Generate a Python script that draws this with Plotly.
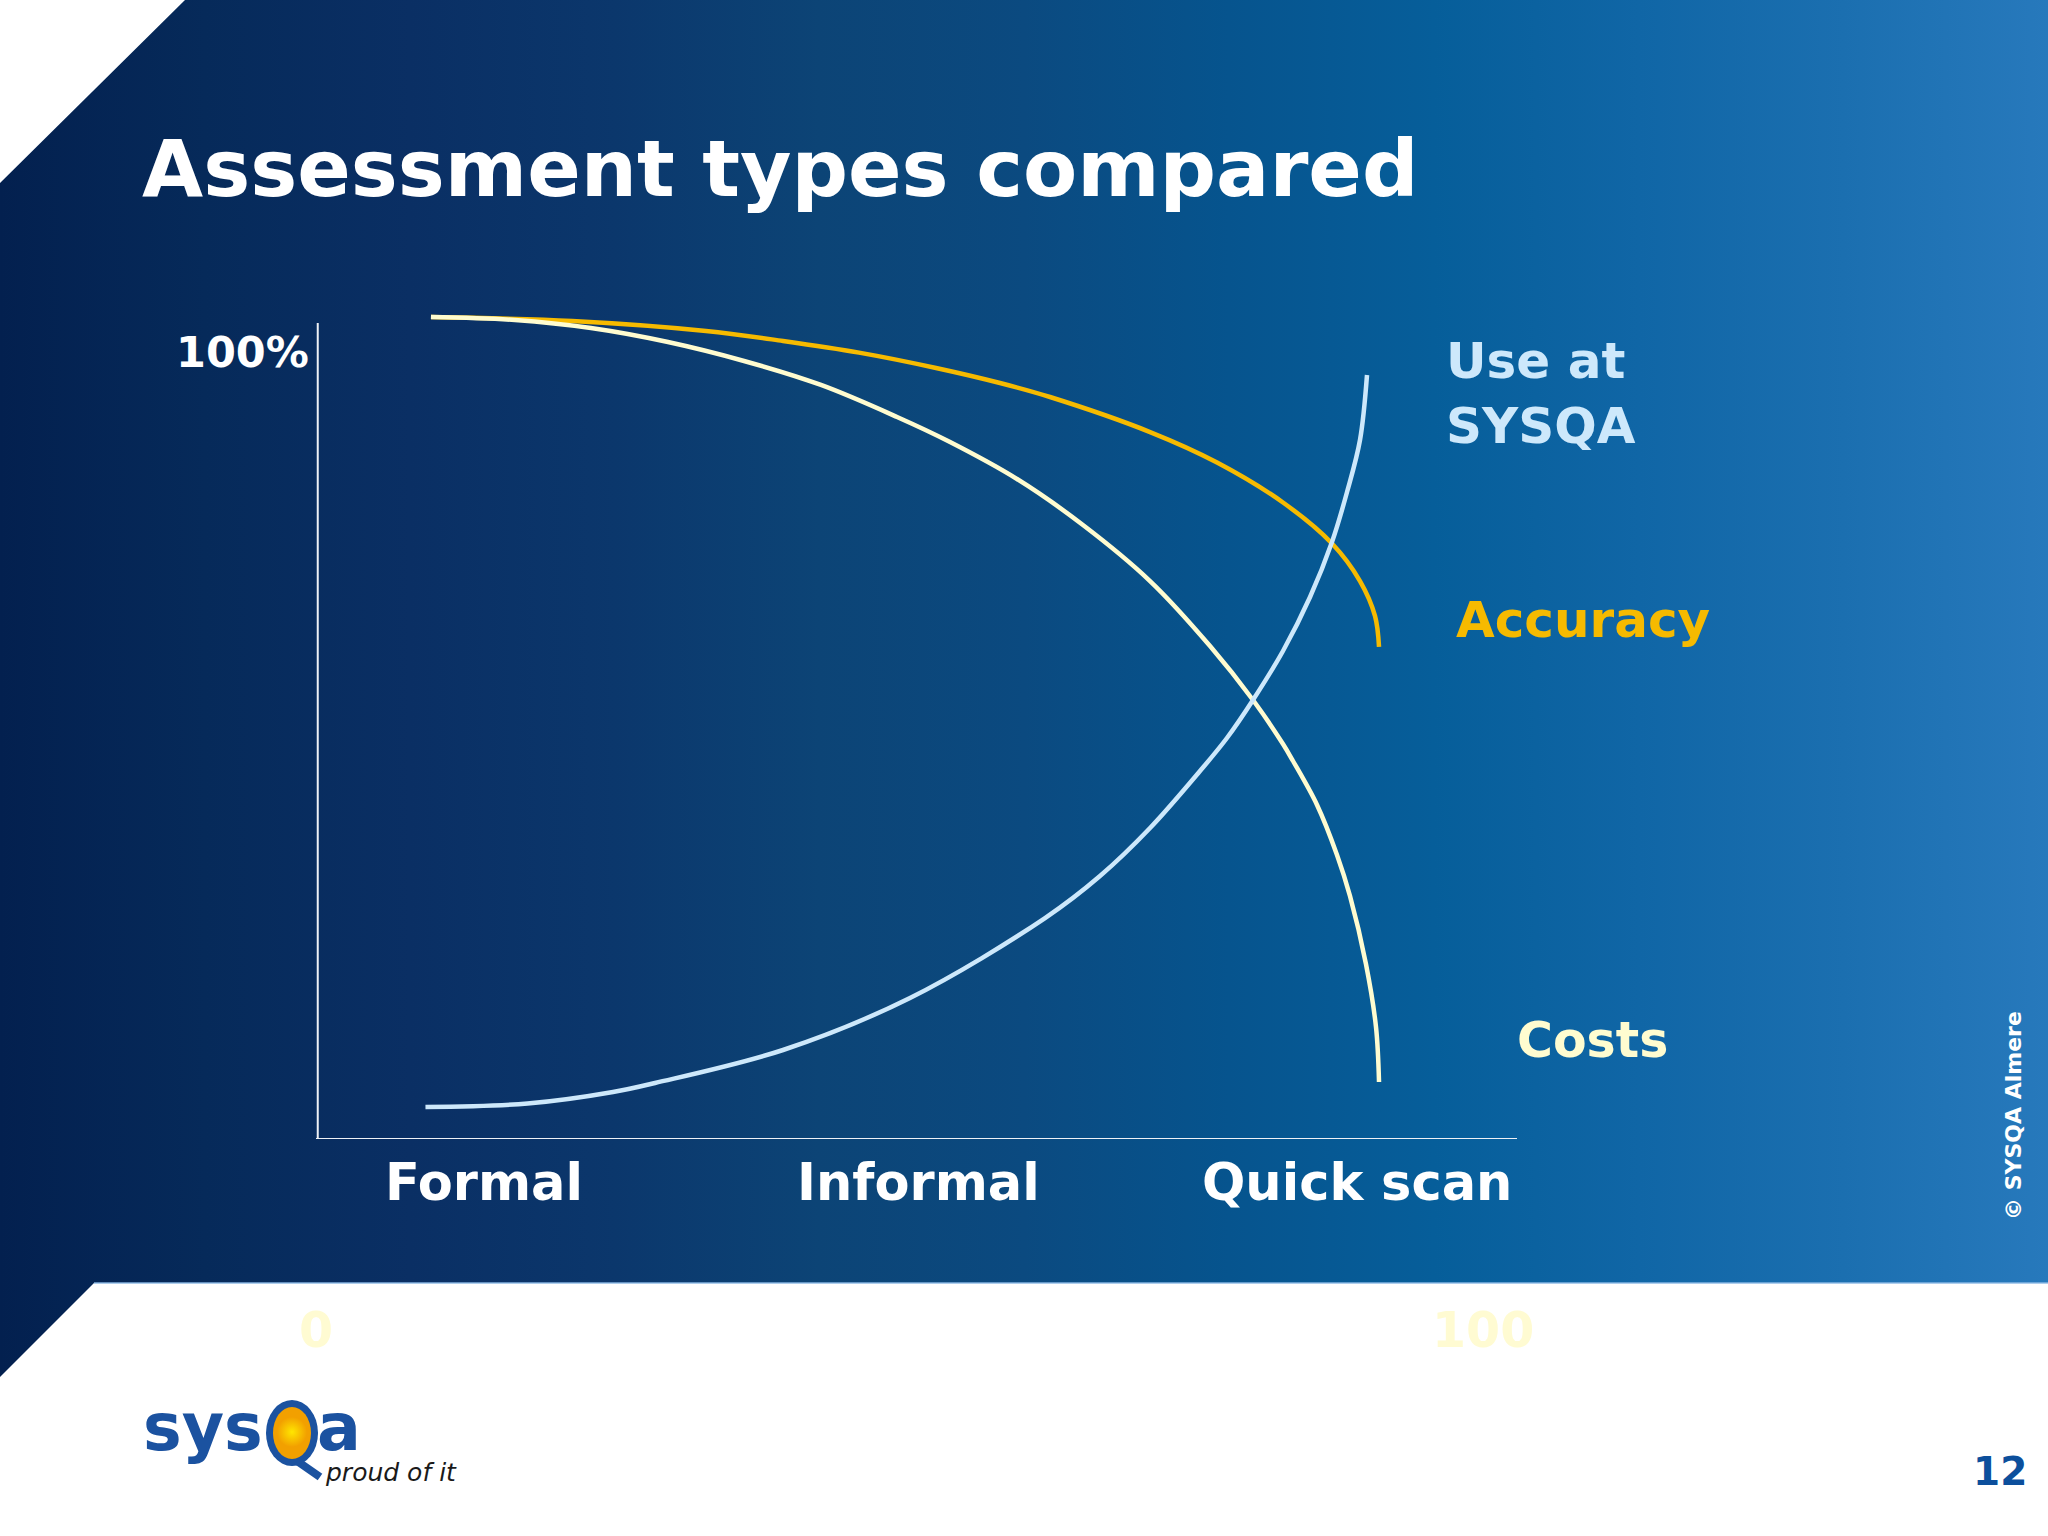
import plotly.graph_objects as go

W, H = 2048, 1536

# ---- data (x: 0..100 scale, y: 0..100 %) ----
accuracy_x = [9.85, 21.94, 33.42, 40.02, 46.53, 53.13, 58.61, 62.90, 71.47, 77.21, 82.86, 87.06, 89.46, 90.75, 91.09]
accuracy_y = [104.45, 103.94, 102.67, 101.40, 99.92, 97.97, 96.06, 94.28, 89.83, 85.96, 80.88, 75.67, 70.90, 66.45, 62.52]

costs_x = [9.85, 17.05, 23.56, 30.16, 36.68, 43.27, 49.79, 54.33, 60.07, 65.72, 71.47, 76.61,
           80.29, 82.86, 83.72, 85.78, 87.49, 88.60, 89.97, 90.83, 91.09]
costs_y = [104.45, 104.07, 103.05, 101.27, 98.86, 95.81, 91.74, 88.56, 83.86, 78.02, 70.90, 62.64,
           55.78, 50.19, 48.03, 42.44, 36.09, 30.88, 22.24, 14.23, 7.24]

use_x = [9.38, 18.13, 25.45, 29.05, 40.02, 50.90, 62.47, 67.18, 71.47, 75.75, 78.06, 80.29,
         82.86, 85.18, 87.06, 88.35, 89.46, 90.06]
use_y = [4.07, 4.51, 5.97, 7.12, 11.31, 17.92, 28.08, 33.42, 39.52, 46.76, 50.95, 55.78,
         62.01, 68.87, 75.86, 82.21, 88.82, 97.08]

categories = ["Formal", "Informal", "Quick scan"]
category_x = [14.4, 51.6, 89.2]
scale_ticks = [0, 100]
scale_text = ["0", "100"]
y_label = "100%"

FONT = "DejaVu Sans"
GOLD = "#f6ba00"
CREAM = "#fffcd0"
LIGHTBLUE = "#cde8fb"
LOGO_BLUE = "#1b52a0"

bg_stops = [[0.0, "#03204f"], [0.1, "#062a5a"], [0.2, "#0a2f64"], [0.3, "#0b376c"],
            [0.4, "#0c4476"], [0.5, "#0b4a80"], [0.6, "#06548e"], [0.7, "#065e9a"],
            [0.8, "#1066a6"], [0.9, "#1b6fb0"], [1.0, "#2779bc"]]

# chart geometry (pixels)
X0_PX, X100_PX = 316, 1483
Y0_PX, Y100_PX = 1139, 352
PX_X = (X100_PX - X0_PX) / 100.0
PX_Y = (Y0_PX - Y100_PX) / 100.0
PLOT_RIGHT, PLOT_TOP = 1530, 300

fig = go.Figure()

# slide background with gradient (page pixel axes)
fig.add_trace(go.Scatter(
    x=[185, W, W, 94, 0, 0, 185], y=[0, 0, 1283, 1283, 1377, 183, 0],
    mode="lines", fill="toself", line=dict(width=0, color="rgba(0,0,0,0)"),
    fillgradient=dict(type="horizontal", colorscale=bg_stops),
    xaxis="x", yaxis="y", hoverinfo="skip", showlegend=False))

# logo sun glow inside the Q
fig.add_trace(go.Scatter(
    x=[292], y=[1432], mode="markers",
    marker=dict(size=30, color="#f2a000", gradient=dict(type="radial", color="#ffe600"),
                line=dict(width=0)),
    xaxis="x", yaxis="y", hoverinfo="skip", showlegend=False))

# curves
LW = 4.5
fig.add_trace(go.Scatter(x=accuracy_x, y=accuracy_y, mode="lines", name="Accuracy",
                         line=dict(color=GOLD, width=LW, shape="spline", smoothing=1.0),
                         xaxis="x2", yaxis="y2", showlegend=False))
fig.add_trace(go.Scatter(x=costs_x, y=costs_y, mode="lines", name="Costs",
                         line=dict(color=CREAM, width=LW, shape="spline", smoothing=1.0),
                         xaxis="x2", yaxis="y2", showlegend=False))
fig.add_trace(go.Scatter(x=use_x, y=use_y, mode="lines", name="Use at SYSQA",
                         line=dict(color=LIGHTBLUE, width=LW, shape="spline", smoothing=1.0),
                         xaxis="x2", yaxis="y2", showlegend=False))

axis_top = (Y0_PX - 323) / PX_Y
axis_right = (1517 - X0_PX) / PX_X

shapes = [
    # chart axes
    dict(type="line", xref="x2", yref="y2", x0=0.15, x1=0.15, y0=0, y1=axis_top,
         line=dict(color="#eef1f6", width=2)),
    dict(type="line", xref="x2", yref="y2", x0=0, x1=axis_right, y0=0, y1=0,
         line=dict(color="#eef1f6", width=2)),
    # lighter edge of the blue band
    dict(type="line", xref="x", yref="y", x0=94, x1=W, y0=1283, y1=1283,
         line=dict(color="rgba(140,185,230,0.7)", width=2)),
    # logo Q
    dict(type="circle", xref="x", yref="y", x0=266, x1=318, y0=1400, y1=1466,
         fillcolor=LOGO_BLUE, line=dict(width=0), layer="below"),
    dict(type="circle", xref="x", yref="y", x0=273, x1=311, y0=1407, y1=1459,
         fillcolor="#f2a000", line=dict(width=0), layer="below"),
    dict(type="line", xref="x", yref="y", x0=297, x1=320, y0=1461, y1=1477,
         line=dict(color=LOGO_BLUE, width=8)),
]

annotations = []


def ann(text, x, y, size, color, xanchor="left", xref="x", yref="y",
        family=FONT, weight="bold", style="normal", angle=0):
    annotations.append(dict(
        text=text, x=x, y=y, xref=xref, yref=yref, xanchor=xanchor, yanchor="middle",
        showarrow=False, textangle=angle, align="left",
        font=dict(family=family, size=size, color=color, weight=weight, style=style)))


ann("Assessment types compared", 140, 169, 79, "white")
ann(y_label, 311, 352, 43, "white", xanchor="right")

for name, cx in zip(categories, category_x):
    ann(name, cx, 1182, 51, "white", xanchor="center", xref="x2")
for v, t in zip(scale_ticks, scale_text):
    ann(t, v, 1330, 49, "#fffbd2", xanchor="center", xref="x2")

ann("Use at<br>SYSQA", 1444, 393, 50, LIGHTBLUE)
ann("Accuracy", 1454, 620, 50, GOLD)
ann("Costs", 1515, 1040, 49, CREAM)

ann("© SYSQA Almere", 2013, 1116, 22, "white", xanchor="center", angle=-90)
ann("12", 2029, 1471, 39, "#0c4f9c", xanchor="right")

# logo text
ann("sys", 141, 1427, 65, LOGO_BLUE)
ann("a", 315, 1427, 65, LOGO_BLUE)
ann("proud of it", 323, 1472, 25, "#1a1a1a", weight="normal", style="italic")

fig.update_layout(
    width=W, height=H, margin=dict(l=0, r=0, t=0, b=0),
    paper_bgcolor="white", plot_bgcolor="rgba(0,0,0,0)",
    showlegend=False,
    xaxis=dict(domain=[0, 1], range=[0, W], visible=False, fixedrange=True),
    yaxis=dict(domain=[0, 1], range=[H, 0], visible=False, fixedrange=True),
    xaxis2=dict(domain=[X0_PX / W, PLOT_RIGHT / W],
                range=[0, (PLOT_RIGHT - X0_PX) / PX_X], visible=False, anchor="y2"),
    yaxis2=dict(domain=[1 - Y0_PX / H, 1 - PLOT_TOP / H],
                range=[0, (Y0_PX - PLOT_TOP) / PX_Y], visible=False, anchor="x2"),
    shapes=shapes, annotations=annotations,
)

fig.write_html("out.html", config={"displayModeBar": False},
               post_script="document.body.style.margin='0';document.body.style.overflow='hidden';")
